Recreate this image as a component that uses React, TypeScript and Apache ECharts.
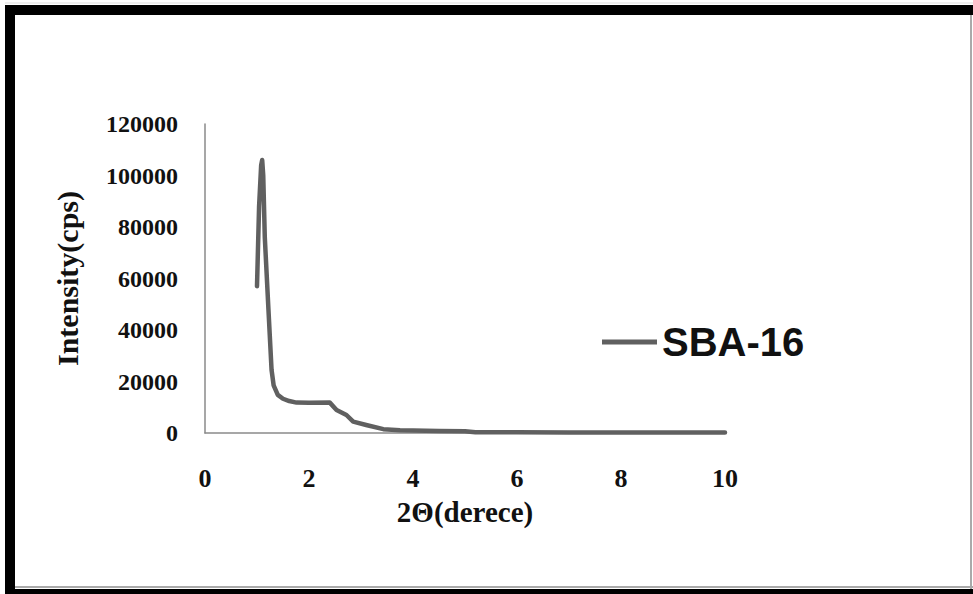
import React, { useEffect, useRef } from "react";
import * as echarts from "echarts";

const xValues = [1.0, 1.04, 1.08, 1.1, 1.12, 1.15, 1.22, 1.28, 1.32, 1.4, 1.5, 1.62, 1.76, 2.0, 2.4, 2.53, 2.72, 2.85, 3.1, 3.43, 3.75, 4.0, 4.5, 5.0, 5.2, 6.0, 7.0, 8.0, 9.0, 10.0];
const intensity = [57000, 88000, 104000, 106000, 100000, 76000, 48000, 24500, 18500, 14800, 13300, 12400, 11800, 11700, 11800, 8900, 7000, 4400, 3100, 1500, 1100, 1000, 800, 700, 300, 250, 200, 200, 200, 200];
const seriesName = "SBA-16";
const xTicks = [0, 2, 4, 6, 8, 10];
const yTicks = [0, 20000, 40000, 60000, 80000, 100000, 120000];

export default function App() {
  const ref = useRef<HTMLDivElement>(null);
  useEffect(() => {
    if (!ref.current) return;
    const chart = echarts.init(ref.current, null, { renderer: "svg" });
    const serif = "'Liberation Serif', 'Times New Roman', serif";
    chart.setOption({
      animation: false,
      backgroundColor: "#fff",
      grid: { left: 205, right: 248, top: 124, bottom: 161, containLabel: false },
      xAxis: {
        type: "value",
        min: xTicks[0],
        max: xTicks[xTicks.length - 1],
        interval: 2,
        name: "2Θ(derece)",
        nameLocation: "middle",
        nameGap: 64,
        nameTextStyle: { fontFamily: serif, fontWeight: "bold", fontSize: 29, color: "#111" },
        axisLine: { lineStyle: { color: "#8a8a8a", width: 1.5 } },
        axisTick: { show: false },
        splitLine: { show: false },
        axisLabel: { margin: 32, fontFamily: serif, fontWeight: "bold", fontSize: 26, color: "#111" },
      },
      yAxis: {
        type: "value",
        min: yTicks[0],
        max: yTicks[yTicks.length - 1],
        interval: 20000,
        name: "Intensity(cps)",
        nameLocation: "middle",
        nameGap: 123,
        nameTextStyle: { fontFamily: serif, fontWeight: "bold", fontSize: 30, color: "#111" },
        axisLine: { show: true, lineStyle: { color: "#8a8a8a", width: 1.5 } },
        axisTick: { show: false },
        splitLine: { show: false },
        axisLabel: {
          margin: 27,
          fontFamily: serif,
          fontWeight: "bold",
          fontSize: 24,
          color: "#111",
          formatter: (v: number) => String(v),
        },
      },
      legend: {
        data: [seriesName],
        left: 597,
        top: 317,
        icon: "rect",
        itemWidth: 55,
        itemHeight: 5,
        textStyle: { fontFamily: "'Liberation Sans', Arial, sans-serif", fontWeight: "bold", fontSize: 40, color: "#111" },
      },
      series: [
        {
          name: seriesName,
          type: "line",
          data: xValues.map((x, i) => [x, intensity[i]]),
          showSymbol: false,
          smooth: false,
          lineStyle: { color: "#606060", width: 4.5, join: "round", cap: "round" },
          itemStyle: { color: "#606060" },
        },
      ],
      graphic: [
        { type: "rect", shape: { x: 5, y: 5, width: 968, height: 10 }, style: { fill: "#000" } },
        { type: "rect", shape: { x: 5, y: 5, width: 10, height: 589 }, style: { fill: "#000" } },
        { type: "rect", shape: { x: 5, y: 589, width: 968, height: 5 }, style: { fill: "#000" } },
        { type: "rect", shape: { x: 15, y: 586, width: 958, height: 2 }, style: { fill: "#aaa" } },
        { type: "rect", shape: { x: 970, y: 15, width: 2, height: 574 }, style: { fill: "#aaa" } },
        { type: "line", shape: { x1: 5, y1: 3, x2: 973, y2: 3 }, style: { stroke: "#ddd", lineWidth: 1 } },
      ],
    });
    return () => chart.dispose();
  }, []);
  return (
    <div
      ref={ref}
      style={{ position: "absolute", left: 0, top: 0, width: 973, height: 594 }}
    />
  );
}
